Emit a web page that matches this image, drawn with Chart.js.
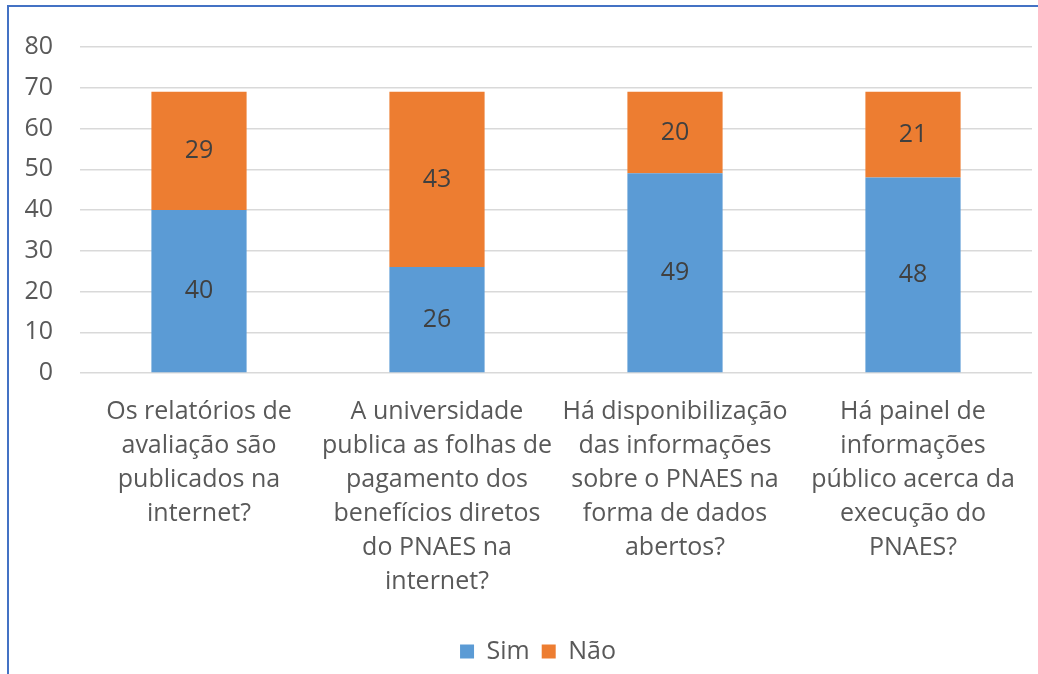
<!DOCTYPE html>
<html>
<head>
<meta charset="utf-8">
<script src="https://cdn.jsdelivr.net/npm/chart.js@4"></script>
<style>
  html, body { margin: 0; padding: 0; background: #fff; overflow: hidden; }
  #wrap { position: relative; width: 1038px; height: 674px; }
  #frame { position: absolute; left: 7px; top: 5px; width: 1100px; height: 720px; border: 2px solid #4472C4; box-sizing: border-box; }
  canvas { position: absolute; left: 0; top: 0; }
</style>
</head>
<body>
<div id="wrap">
  <div id="frame"></div>
  <canvas id="c" width="1038" height="674"></canvas>
</div>
<script>
const categories = [
  ["Os relatórios de", "avaliação são", "publicados na", "internet?"],
  ["A universidade", "publica as folhas de", "pagamento dos", "benefícios diretos", "do PNAES na", "internet?"],
  ["Há disponibilização", "das informações", "sobre o PNAES na", "forma de dados", "abertos?"],
  ["Há painel de", "informações", "público acerca da", "execução do", "PNAES?"]
];
const simValues = [40, 26, 49, 48];
const naoValues = [29, 43, 20, 21];
const yTicks = [0, 10, 20, 30, 40, 50, 60, 70, 80];

const FONT = "'Open Sans', 'Noto Sans', sans-serif";

const barLabels = {
  id: 'barLabels',
  afterDatasetsDraw(chart) {
    const ctx = chart.ctx;
    ctx.save();
    ctx.font = "25px " + FONT;
    ctx.fillStyle = '#404040';
    ctx.textAlign = 'center';
    ctx.textBaseline = 'middle';
    chart.data.datasets.forEach((ds, di) => {
      const meta = chart.getDatasetMeta(di);
      meta.data.forEach((bar, i) => {
        const y = (bar.y + bar.base) / 2;
        ctx.fillText(String(ds.data[i]), bar.x, y);
      });
    });
    ctx.restore();
  }
};

const legendShift = {
  id: 'legendShift',
  afterLayout(chart) {
    if (chart.legend) {
      chart.legend.left += 22;
      chart.legend.right += 22;
    }
  }
};

new Chart(document.getElementById('c'), {
  type: 'bar',
  data: {
    labels: categories,
    datasets: [
      { label: 'Sim', data: simValues, backgroundColor: '#5B9BD5', borderWidth: 0 },
      { label: 'Não', data: naoValues, backgroundColor: '#ED7D31', borderWidth: 0 }
    ]
  },
  options: {
    responsive: false,
    animation: false,
    devicePixelRatio: 1,
    layout: { padding: { top: 47, right: 6, left: 0, bottom: 0 } },
    datasets: { bar: { categoryPercentage: 1, barPercentage: 0.4 } },
    scales: {
      x: {
        stacked: true,
        grid: { display: false, drawTicks: false },
        border: { display: false },
        ticks: {
          color: '#595959',
          font: { family: FONT, size: 25, lineHeight: 1.36 },
          padding: 22,
          maxRotation: 0, minRotation: 0, autoSkip: false
        },
        afterFit(scale) { scale.height = 254; }
      },
      y: {
        stacked: true,
        min: 0, max: 80,
        afterBuildTicks(scale) { scale.ticks = yTicks.map(v => ({ value: v })); },
        grid: { color: '#d9d9d9', lineWidth: 1.5, drawTicks: false },
        border: { display: false },
        ticks: {
          color: '#595959',
          font: { family: FONT, size: 25 },
          padding: 27
        },
        afterFit(scale) { scale.width = 80; }
      }
    },
    plugins: {
      legend: {
        position: 'bottom',
        labels: {
          color: '#595959',
          font: { family: FONT, size: 25 },
          boxWidth: 14, boxHeight: 14,
          padding: 12
        }
      },
      tooltip: { enabled: false }
    }
  },
  plugins: [barLabels, legendShift]
});
</script>
</body>
</html>
